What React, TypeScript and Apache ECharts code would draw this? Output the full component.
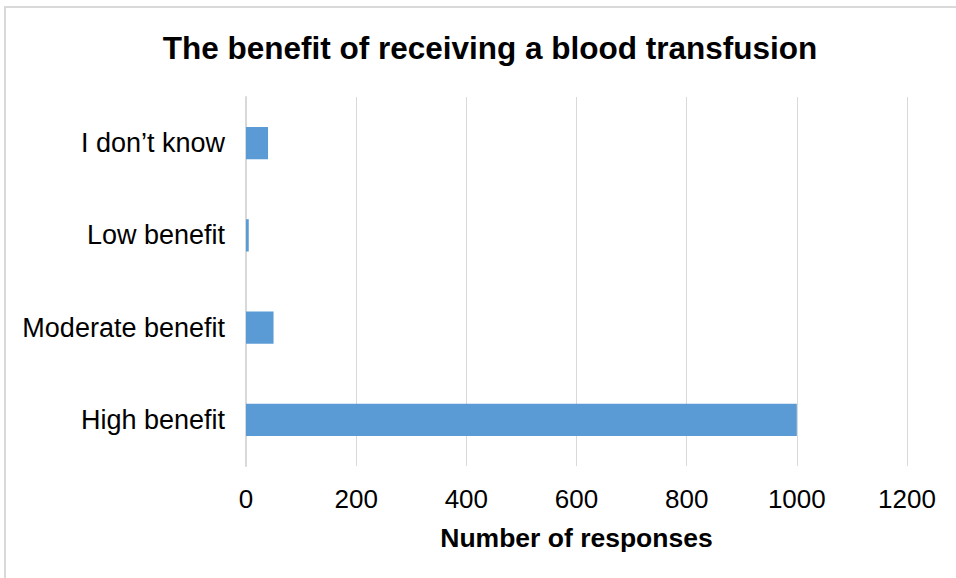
import React, { useEffect, useRef } from "react";
import * as echarts from "echarts";

const title = "The benefit of receiving a blood transfusion";
const categories = ["High benefit", "Moderate benefit", "Low benefit", "I don\u2019t know"];
const responses = [1000, 50, 5, 40];
const xAxisName = "Number of responses";
const xMin = 0;
const xMax = 1200;
const xInterval = 200;

export default function App() {
  const ref = useRef<HTMLDivElement>(null);
  useEffect(() => {
    document.body.style.margin = "0";
    const chart = echarts.init(ref.current!, null, { renderer: "svg" });
    const font = "'Liberation Sans', Arial, sans-serif";
    chart.setOption({
      animation: false,
      backgroundColor: "#ffffff",
      title: {
        text: title,
        left: 485,
        top: 27,
        textAlign: "center",
        textStyle: { fontFamily: font, fontSize: 31.5, fontWeight: "bold", color: "#000000" },
      },
      graphic: [
        {
          type: "rect",
          shape: { x: 5, y: 7, width: 1000, height: 700 },
          style: { fill: "none", stroke: "#d9d9d9", lineWidth: 2 },
          silent: true,
        },
      ],
      grid: { left: 246, right: 49, top: 97, bottom: 112, containLabel: false },
      xAxis: {
        type: "value",
        min: xMin,
        max: xMax,
        interval: xInterval,
        name: xAxisName,
        nameLocation: "middle",
        nameGap: 58,
        nameTextStyle: { fontFamily: font, fontSize: 26.5, fontWeight: "bold", color: "#000000" },
        axisLine: { show: false },
        axisTick: { show: false },
        axisLabel: {
          fontFamily: font,
          fontSize: 26,
          color: "#000000",
          margin: 20,
          formatter: (v: number) => String(v),
        },
        splitLine: { show: true, lineStyle: { color: "#d9d9d9", width: 1 } },
      },
      yAxis: {
        type: "category",
        data: categories,
        axisLine: { show: true, lineStyle: { color: "#d9d9d9", width: 2 } },
        axisTick: { show: false },
        axisLabel: { fontFamily: font, fontSize: 27, color: "#000000", margin: 21 },
        splitLine: { show: false },
      },
      series: [
        {
          type: "bar",
          data: responses,
          barWidth: "35%",
          itemStyle: { color: "#5b9bd5" },
        },
      ],
    });
    return () => chart.dispose();
  }, []);
  return <div ref={ref} style={{ width: 956, height: 578 }} />;
}
